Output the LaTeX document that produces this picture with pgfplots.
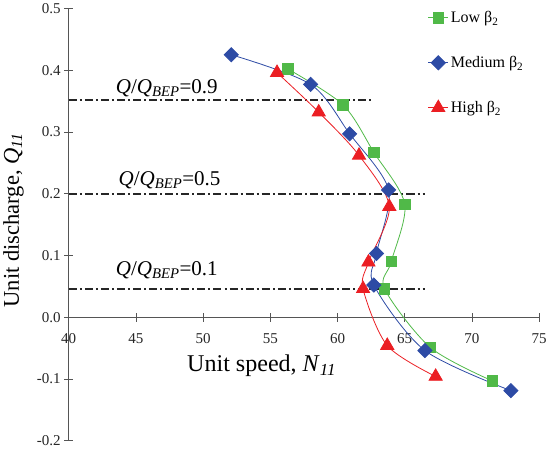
\documentclass[border=0pt]{standalone}
\usepackage{fontspec}
\setmainfont{Liberation Serif}
\usepackage{pgfplots}
\pgfplotsset{compat=1.18}
\definecolor{cgreen}{RGB}{80,185,72}
\definecolor{cblue}{RGB}{45,75,165}
\definecolor{cred}{RGB}{235,30,35}
\definecolor{axgray}{RGB}{85,85,85}
\begin{document}
\begin{tikzpicture}
\begin{axis}[
  scale only axis, width=468bp, height=430bp,
  xmin=40, xmax=75, ymin=-0.2, ymax=0.5,
  axis x line*=middle, axis y line*=left,
  hide obscured x ticks=false, hide obscured y ticks=false,
  axis line style={axgray, line width=0.8pt},
  every tick/.style={axgray, line width=0.8pt},
  tick align=center, major tick length=9bp,
  xtick={40,45,...,75}, ytick={-0.2,-0.1,...,0.5},
  /pgf/number format/assume math mode=true,
  yticklabel style={/pgf/number format/.cd, fixed, fixed zerofill, precision=1},
  xticklabel style={yshift=-8bp},
  tick label style={font=\fontsize{15}{17}\selectfont, text=black!85},
  xlabel={Unit speed, \textit{N}\textsubscript{\textit{11}}},
  ylabel={Unit discharge, \textit{Q}\textsubscript{\textit{11}}},
  xlabel style={at={(axis cs:54.35,-0.056)}, anchor=north, font=\fontsize{24}{26}\selectfont},
  ylabel style={at={(axis cs:35.9,0.157)}, anchor=center, font=\fontsize{22.5}{24}\selectfont},
  legend style={at={(rel axis cs:0.763,0.998)}, anchor=north west, draw=none, fill=none,
    row sep=28bp, font=\fontsize{16}{18}\selectfont, inner sep=0pt},
  legend cell align=left,
  legend image code/.code={
    \draw[mark repeat=2,mark phase=2] plot coordinates {(0bp,0bp) (10bp,0bp) (20bp,0bp)};
  },
  clip=false,
]
\addplot[forget plot, black!85, line width=1.8pt, dash pattern=on 8bp off 3bp on 2bp off 3bp] coordinates {(40,0.352) (62.6,0.352)};
\addplot[forget plot, black!85, line width=1.8pt, dash pattern=on 8bp off 3bp on 2bp off 3bp] coordinates {(40,0.200) (66.5,0.200)};
\addplot[forget plot, black!85, line width=1.8pt, dash pattern=on 8bp off 3bp on 2bp off 3bp] coordinates {(40,0.046) (66.5,0.046)};

\addplot[cgreen, line width=0.8pt, smooth, mark=square*, mark size=5.2pt, mark options={fill=cgreen, draw=cgreen}] coordinates {
(56.3,0.402) (60.4,0.344) (62.7,0.267) (65.0,0.183) (64.0,0.090) (63.5,0.046) (66.9,-0.049) (71.5,-0.103)};
\addlegendentry{Low β\textsubscript{2}}
\addplot[cblue, line width=0.8pt, smooth, mark=square*, mark size=5pt, mark options={fill=cblue, draw=cblue, rotate=45}] coordinates {
(52.1,0.425) (58.0,0.377) (60.9,0.297) (63.8,0.206) (62.9,0.103) (62.7,0.052) (66.5,-0.054) (72.9,-0.119)};
\addlegendentry{Medium β\textsubscript{2}}
\addplot[cred, line width=0.8pt, smooth, mark=triangle*, mark size=7.6pt, mark options={fill=cred, draw=cred}] coordinates {
(55.5,0.396) (58.6,0.332) (61.6,0.262) (63.85,0.179) (62.3,0.089) (61.9,0.046) (63.7,-0.046) (67.3,-0.096)};
\addlegendentry{High β\textsubscript{2}}

\node[anchor=base, font=\fontsize{21}{23}\selectfont, inner sep=0pt] at (axis cs:47.3,0.362) {\textit{Q}/\textit{Q}\textsubscript{\textit{BEP}}=0.9};
\node[anchor=base, font=\fontsize{21}{23}\selectfont, inner sep=0pt] at (axis cs:47.5,0.213) {\textit{Q}/\textit{Q}\textsubscript{\textit{BEP}}=0.5};
\node[anchor=base, font=\fontsize{21}{23}\selectfont, inner sep=0pt] at (axis cs:47.3,0.068) {\textit{Q}/\textit{Q}\textsubscript{\textit{BEP}}=0.1};
\end{axis}
\end{tikzpicture}
\end{document}
